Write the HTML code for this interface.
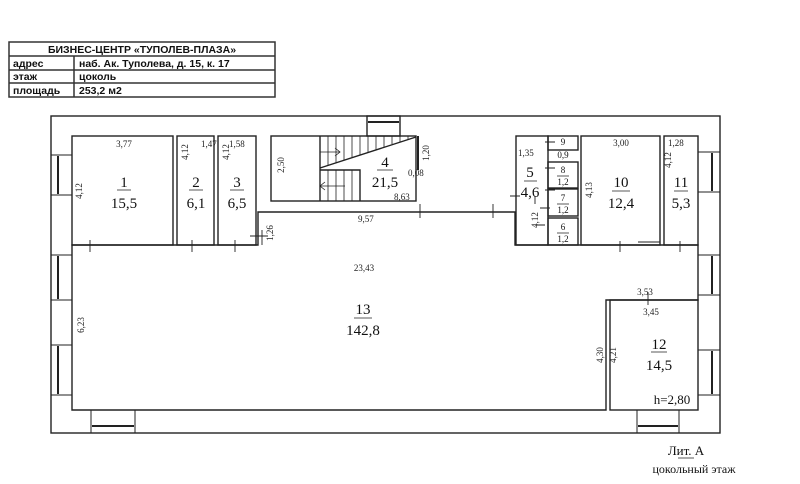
<!DOCTYPE html>
<html><head><meta charset="utf-8"><style>
body{margin:0;background:#fff;width:800px;height:484px;overflow:hidden}
svg{display:block}
</style></head><body>
<svg width="800" height="484" viewBox="0 0 800 484" xmlns="http://www.w3.org/2000/svg" font-family="Liberation Serif, serif" fill="none" stroke="#222" stroke-width="1.4">
<g stroke="#333" stroke-width="1.5">
<rect x="9" y="42" width="266" height="55"/>
<line x1="9" y1="56" x2="275" y2="56"/><line x1="9" y1="70" x2="275" y2="70"/><line x1="9" y1="83" x2="275" y2="83"/>
<line x1="74" y1="56" x2="74" y2="97"/>
</g>
<g font-family="Liberation Sans, DejaVu Sans, sans-serif" font-weight="bold" font-size="10.5" fill="#111" stroke="none">
<text x="142" y="53" text-anchor="middle">БИЗНЕС-ЦЕНТР «ТУПОЛЕВ-ПЛАЗА»</text>
<text x="13" y="67">адрес</text><text x="79" y="67">наб. Ак. Туполева, д. 15, к. 17</text>
<text x="13" y="80">этаж</text><text x="79" y="80">цоколь</text>
<text x="13" y="94">площадь</text><text x="79" y="94">253,2 м2</text>
</g>
<rect x="51" y="116" width="669" height="317"/>
<path d="M72 245 V410 H606 V300 H698 V245 H515 V212 H258 V245 Z"/>
<rect x="72" y="136" width="101" height="109"/>
<rect x="177" y="136" width="37" height="109"/>
<rect x="218" y="136" width="38" height="109"/>
<rect x="271" y="136" width="145" height="65"/>
<rect x="516" y="136" width="32" height="109"/>
<rect x="548" y="136" width="30" height="14"/>
<rect x="548" y="162" width="30" height="26"/>
<rect x="548" y="189" width="30" height="27"/>
<rect x="548" y="218" width="30" height="27"/>
<rect x="581" y="136" width="79" height="109"/>
<rect x="664" y="136" width="34" height="109"/>
<rect x="610" y="300" width="88" height="110"/>
<path d="M320 136 V201 M320 168 L416 137 M320 170 H360 V201"/>
<g stroke-width="0.8">
<path d="M328 136V165 M336 136V163 M344 136V160 M352 136V157 M360 136V155 M368 136V152 M376 136V150 M384 136V147 M392 136V144 M400 136V142 M408 136V139"/>
<path d="M328 170V201 M336 170V201 M344 170V201 M352 170V201"/>
<path d="M320 152 H340 M335 148 L340 152 L335 156 M320 186 H345 M325 182 L320 186 L325 190"/>
</g>
<rect x="367" y="116" width="33" height="20"/><line x1="368" y1="122" x2="399" y2="122" stroke-width="2"/>
<line x1="418" y1="136" x2="418" y2="170" stroke-width="2"/>
<g stroke-width="1">
<rect x="51" y="155" width="21" height="40"/><line x1="58" y1="156" x2="58" y2="194" stroke-width="2"/>
<rect x="51" y="255" width="21" height="45"/><line x1="58" y1="256" x2="58" y2="299" stroke-width="2"/>
<rect x="51" y="345" width="21" height="50"/><line x1="58" y1="346" x2="58" y2="394" stroke-width="2"/>
<rect x="698" y="152" width="22" height="40"/><line x1="712" y1="153" x2="712" y2="191" stroke-width="2"/>
<rect x="698" y="255" width="22" height="40"/><line x1="712" y1="256" x2="712" y2="294" stroke-width="2"/>
<rect x="698" y="350" width="22" height="45"/><line x1="712" y1="351" x2="712" y2="394" stroke-width="2"/>
<rect x="91" y="410" width="44" height="23"/><line x1="92" y1="426" x2="134" y2="426" stroke-width="2"/>
<rect x="637" y="410" width="42" height="23"/><line x1="638" y1="426" x2="678" y2="426" stroke-width="2"/>
</g>
<g stroke-width="0.9">
<path d="M90 240V252 M192 240V252 M235 240V252 M262 230V245 M250 236H268 M420 204V218 M493 204V218 M535 196V204 M510 196H520 M535 225H545 M540 208H550 M545 190H555 M545 168H555 M545 142H555 M620 241V252 M680 241V252 M648 292V305 M638 242H660"/>
</g>
<g fill="#222" stroke="none" font-size="9">
<text x="124" y="147" text-anchor="middle">3,77</text>
<text x="201" y="147">1,47</text><text x="229" y="147">1,58</text>
<text x="82" y="191" transform="rotate(-90 82 191)" text-anchor="middle">4,12</text>
<text x="188" y="152" transform="rotate(-90 188 152)" text-anchor="middle">4,12</text>
<text x="229" y="152" transform="rotate(-90 229 152)" text-anchor="middle">4,12</text>
<text x="284" y="165" transform="rotate(-90 284 165)" text-anchor="middle">2,50</text>
<text x="429" y="153" transform="rotate(-90 429 153)" text-anchor="middle">1,20</text>
<text x="408" y="176">0,08</text>
<text x="394" y="200">8,63</text>
<text x="358" y="222">9,57</text>
<text x="273" y="233" transform="rotate(-90 273 233)" text-anchor="middle">1,26</text>
<text x="518" y="156">1,35</text>
<text x="538" y="220" transform="rotate(-90 538 220)" text-anchor="middle">4,12</text>
<text x="592" y="190" transform="rotate(-90 592 190)" text-anchor="middle">4,13</text>
<text x="621" y="146" text-anchor="middle">3,00</text>
<text x="668" y="146">1,28</text>
<text x="671" y="160" transform="rotate(-90 671 160)" text-anchor="middle">4,12</text>
<text x="364" y="271" text-anchor="middle">23,43</text>
<text x="84" y="325" transform="rotate(-90 84 325)" text-anchor="middle">6,23</text>
<text x="645" y="295" text-anchor="middle">3,53</text>
<text x="651" y="315" text-anchor="middle">3,45</text>
<text x="603" y="355" transform="rotate(-90 603 355)" text-anchor="middle">4,30</text>
<text x="616" y="355" transform="rotate(-90 616 355)" text-anchor="middle">4,21</text>
</g>
<g fill="#111" stroke="none" font-size="15" text-anchor="middle">
<text x="124" y="187">1</text><text x="124" y="208">15,5</text>
<text x="196" y="187">2</text><text x="196" y="208">6,1</text>
<text x="237" y="187">3</text><text x="237" y="208">6,5</text>
<text x="385" y="167">4</text><text x="385" y="187">21,5</text>
<text x="530" y="177">5</text><text x="530" y="197">4,6</text>
<text x="621" y="187">10</text><text x="621" y="208">12,4</text>
<text x="681" y="187">11</text><text x="681" y="208">5,3</text>
<text x="363" y="314">13</text><text x="363" y="335">142,8</text>
<text x="659" y="349">12</text><text x="659" y="370">14,5</text>
<text x="672" y="404" font-size="13">h=2,80</text>
<text x="686" y="455" font-size="13">Лит. А</text>
<text x="694" y="473" font-size="12">цокольный этаж</text>
</g>
<g fill="#111" stroke="none" font-size="9" text-anchor="middle">
<text x="563" y="145">9</text><text x="563" y="158">0,9</text>
<text x="563" y="173">8</text><text x="563" y="185">1,2</text>
<text x="563" y="201">7</text><text x="563" y="213">1,2</text>
<text x="563" y="230">6</text><text x="563" y="242">1,2</text>
</g>
<g stroke-width="0.7">
<path d="M117 190H131 M189 190H203 M230 190H244 M377 170H393 M524 181H537 M612 191H630 M674 191H688 M354 318H372 M651 352H667 M557 150H569 M557 176H569 M557 204H569 M557 233H569 M678 458H694"/>
</g>
</svg>
</body></html>
